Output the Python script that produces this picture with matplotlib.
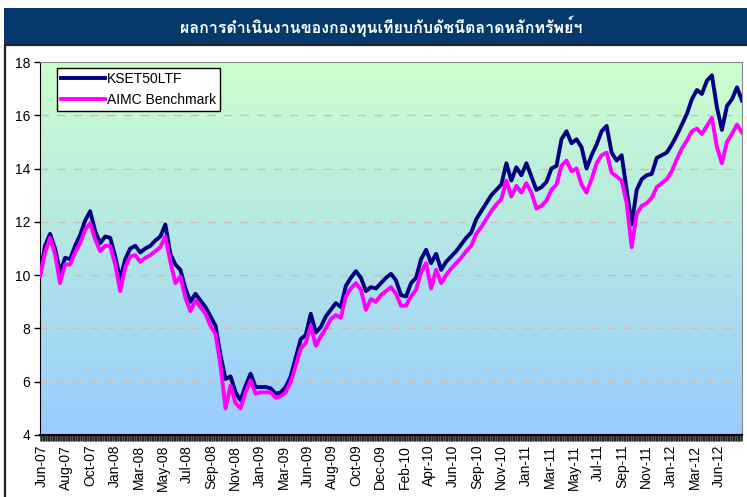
import numpy as np
import matplotlib
matplotlib.use("Agg")
import matplotlib.pyplot as plt
from matplotlib import font_manager
from matplotlib.ft2font import FT2Font
from matplotlib.patches import Rectangle
from matplotlib.ticker import MultipleLocator

title = "ผลการดำเนินงานของกองทุนเทียบกับดัชนีตลาดหลักทรัพย์ฯ"
series_names = ["KSET50LTF", "AIMC Benchmark"]

# values, one sample every ~5 px (Jun-07 .. Aug-12)
kset50ltf = [
    10.0, 11.1, 11.55, 11.0, 10.1, 10.65, 10.6, 11.1, 11.5, 12.05,
    12.4, 11.65, 11.2, 11.45, 11.4, 10.7, 9.85, 10.6, 11.0, 11.1,
    10.85, 11.0, 11.1, 11.3, 11.45, 11.9, 10.8, 10.4, 10.2, 9.5,
    9.0, 9.3, 9.05, 8.8, 8.45, 8.1, 7.0, 6.1, 6.2, 5.6,
    5.3, 5.85, 6.3, 5.8, 5.8, 5.8, 5.75, 5.55, 5.6, 5.8,
    6.2, 6.9, 7.6, 7.75, 8.55, 7.85, 8.05, 8.45, 8.7, 8.95,
    8.8, 9.6, 9.9, 10.15, 9.9, 9.4, 9.55, 9.5, 9.7, 9.9,
    10.05, 9.8, 9.25, 9.2, 9.7, 9.9, 10.6, 10.95, 10.45, 10.8,
    10.2, 10.5, 10.7, 10.9, 11.15, 11.4, 11.6, 12.1, 12.4, 12.7,
    13.0, 13.2, 13.4, 14.2, 13.55, 14.05, 13.75, 14.2, 13.7, 13.2,
    13.3, 13.5, 14.0, 14.1, 15.1, 15.4, 14.95, 15.1, 14.8, 14.0,
    14.5, 14.9, 15.4, 15.6, 14.6, 14.3, 14.5, 13.2, 11.9, 13.2,
    13.6, 13.75, 13.8, 14.4, 14.5, 14.6, 14.9, 15.25, 15.65, 16.05,
    16.6, 16.95, 16.8, 17.3, 17.5, 16.3, 15.45, 16.35, 16.6, 17.05,
    16.55,
]
aimc_benchmark = [
    9.95, 10.85, 11.4, 10.8, 9.7, 10.4, 10.4, 10.85, 11.2, 11.7,
    11.95, 11.35, 10.9, 11.1, 11.1, 10.4, 9.4, 10.3, 10.7, 10.75,
    10.5, 10.65, 10.75, 10.9, 11.05, 11.45, 10.5, 9.7, 9.95, 9.15,
    8.65, 9.05, 8.8, 8.55, 8.1, 7.8, 6.6, 5.0, 5.85, 5.2,
    5.0, 5.6, 6.05, 5.55, 5.6, 5.6, 5.6, 5.4, 5.45, 5.6,
    6.0, 6.6, 7.25, 7.45, 8.1, 7.35, 7.7, 8.0, 8.35, 8.5,
    8.4, 9.2, 9.5, 9.7, 9.45, 8.7, 9.1, 9.0, 9.25, 9.4,
    9.55, 9.3, 8.85, 8.85, 9.2, 9.45, 10.1, 10.45, 9.5, 10.2,
    9.7, 10.0, 10.25, 10.45, 10.65, 10.9, 11.1, 11.55, 11.8, 12.1,
    12.4, 12.65, 12.85, 13.55, 12.95, 13.35, 13.1, 13.45, 13.1, 12.5,
    12.6, 12.8, 13.2, 13.4, 14.1, 14.3, 13.9, 14.0, 13.4, 13.1,
    13.6, 14.2, 14.5, 14.6, 13.85, 13.7, 13.55, 12.7, 11.05, 12.3,
    12.6, 12.7, 12.9, 13.3, 13.45, 13.6, 13.9, 14.35, 14.75, 15.05,
    15.4, 15.5, 15.3, 15.6, 15.9, 14.8, 14.2, 15.0, 15.3, 15.65,
    15.35,
]
month_labels = [
    "Jun-07", "Aug-07", "Oct-07", "Jan-08", "Mar-08", "May-08", "Jul-08",
    "Sep-08", "Nov-08", "Jan-09", "Mar-09", "Jun-09", "Aug-09", "Oct-09",
    "Dec-09", "Feb-10", "Apr-10", "Jun-10", "Sep-10", "Nov-10", "Jan-11",
    "Mar-11", "May-11", "Jul-11", "Sep-11", "Nov-11", "Jan-12", "Mar-12",
    "Jun-12",
]
y_ticks = [4, 6, 8, 10, 12, 14, 16, 18]


def thai_font():
    # pick any installed font that actually has Thai glyphs
    best = None
    for f in font_manager.fontManager.ttflist:
        try:
            cmap = FT2Font(f.fname).get_charmap()
        except Exception:
            continue
        if 0x0E01 in cmap and 0x0E33 in cmap:
            if "Thai" in f.name or "Loma" in f.name:
                return f.name
            if best is None:
                best = f.name
    return best


plt.rcParams["font.family"] = ["Liberation Sans", "DejaVu Sans"]

fig = plt.figure(figsize=(7.47, 4.97), dpi=100)
fig.patch.set_facecolor("white")

# title bar
fig.patches.append(Rectangle((4 / 747, 1 - 44 / 497), 743 / 747, 36 / 497,
                             transform=fig.transFigure, facecolor="#05396b",
                             edgecolor="none", zorder=0))
# chart-area frame
fig.patches.append(Rectangle((5 / 747, -0.02), 1.0, 1 - 45 / 497 + 0.02,
                             transform=fig.transFigure, facecolor="none",
                             edgecolor="#222222", linewidth=1.6, zorder=1))
tf = thai_font()
fams = ([tf] if tf else []) + ["DejaVu Sans"]
fig.text(0.51, 1 - 26 / 497, title, color="white", fontsize=11.5,
         fontweight="bold", ha="center", va="center", family=fams)

ax = fig.add_axes([40 / 747, 62 / 497, 702 / 747, 373 / 497])

n = len(kset50ltf)
x = np.arange(n)

# gradient background: light green on top, light blue at the bottom
top = np.array([0.80, 1.00, 0.80])
bot = np.array([0.60, 0.80, 1.00])
t = np.linspace(0, 1, 256)[:, None]
grad = (top * (1 - t) + bot * t)[:, None, :]
ax.imshow(grad, extent=[0, n - 1, 4, 18], origin="upper", aspect="auto",
          zorder=0, interpolation="bilinear")

ax.plot(x, kset50ltf, color="#000080", linewidth=2.8, label=series_names[0],
        zorder=3, solid_joinstyle="round")
ax.plot(x, aimc_benchmark, color="#ff00ff", linewidth=2.8,
        label=series_names[1], zorder=4, solid_joinstyle="round")

ax.set_xlim(0, n - 1)
ax.set_ylim(4, 18)
ax.set_yticks(y_ticks)
ax.set_yticklabels([str(v) for v in y_ticks], fontsize=10)
for v in y_ticks[1:-1]:
    ax.axhline(v, color="#c8c0b8", linewidth=1.0, dashes=(6, 6), zorder=1)

tick_step = (n - 1) / 29.05
ax.set_xticks(0.4 + tick_step * np.arange(len(month_labels)))
ax.set_xticklabels(month_labels, rotation=90, fontsize=10)
ax.xaxis.set_minor_locator(MultipleLocator(0.125))
ax.tick_params(axis="x", which="major", length=0, pad=7)
ax.tick_params(axis="x", which="minor", length=4, width=0.5, color="#111111")
ax.tick_params(axis="y", length=4, width=1, color="black", pad=3)

ax.spines["left"].set_color("black")
ax.spines["bottom"].set_color("black")
ax.spines["bottom"].set_linewidth(1.5)
ax.spines["top"].set_color("#888888")
ax.spines["right"].set_color("#888888")

leg = ax.legend(loc="upper left", bbox_to_anchor=(0.024, 0.985), fontsize=10,
                frameon=True, fancybox=False, handlelength=3.2,
                handletextpad=0.1, borderpad=0.3, labelspacing=0.5,
                borderaxespad=0)
leg.get_frame().set_edgecolor("black")
leg.get_frame().set_linewidth(1.0)
leg.get_frame().set_facecolor("white")
leg.get_frame().set_alpha(1)

fig.savefig("out.png", dpi=100, facecolor="white")
